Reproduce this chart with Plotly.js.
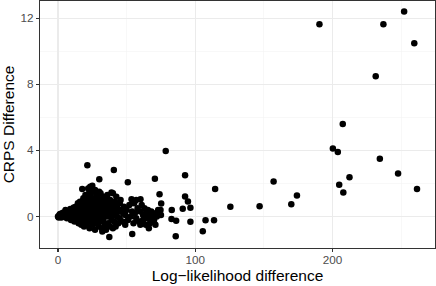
<!DOCTYPE html>
<html>
<head>
<meta charset="utf-8">
<script src="https://cdn.plot.ly/plotly-3.0.1.min.js"></script>
<style>html,body{margin:0;padding:0;background:#fff}#chart{width:436px;height:286px}</style>
</head>
<body>
<div id="chart"></div>
<script>
const logLikDiff = [
  0,0.5,1,1.5,2.5,3,4,5,5.5,6.5,7,8,9,9.5,10,11,11.5,12,12.5,
  13,13.5,14,14.5,15,15,15.5,16,16,16.5,17,17,17.7,17.5,18,18,18.5,18.5,19,19,19.5,20,20,20,20.5,21,21,21.4,21.5,22,22,22,22.5,23,23,23,23.5,24,24,24,24.5,25,25,25,25.5,25.5,
  26,26,26.5,27,27,27,27.5,28,28,28,28.5,29,29,29,29.5,30,30,30.1,30.5,31,31,31,31.5,32,32,32.3,32.5,33,33,33.5,34,34,34.5,35,35,35.5,
  36,36,36.5,37,37.4,37.5,38,38,38.5,39,39,39.5,40,40,40,40.7,41,41,41.5,42,42,42.5,43,43,44,44,45,45,45.6,46,
  47,47.5,48,49,49,50,50.9,51,52,53,53.6,54.1,54,55,55.5,56,57,57,58,59,60,60.1,60,
  61,62,62,63,64,64,65,65.5,66.2,67,67,68,68.5,69,70,70.6,71,71,72,73,74,74.7,75.2,75,
  78.5,82.9,82.7,86.1,85.8,90.9,92.6,92.6,94.7,96.5,96.5,105.5,107.5,113.7,114.5,125.6,146.9,157.1,170,174.1,
  190.5,200.3,203.9,204.9,207.5,207.9,212.4,231.5,234.5,237.1,247.8,252.2,259.6,261.6
];
const crpsDiff = [
  0,-0.05,0.1,0.15,-0.05,0.2,0.25,0.1,0.4,-0.1,0.3,0.15,0.45,-0.2,0.35,0.05,0.55,-0.3,0.2,
  0.6,-0.1,0.3,0.8,-0.4,0.1,0.5,-0.2,0.9,0.2,-0.5,0.4,1.66,0.7,0.0,-0.3,1.1,0.3,-0.6,0.6,0.1,1.3,-0.2,0.8,0.4,-0.4,1.0,3.1,0.2,1.7,-0.1,0.6,1.4,-0.7,0.3,0.9,1.8,0.0,1.2,-0.3,0.5,1.87,-0.5,0.8,0.2,1.5,
  -0.2,1.0,0.4,-0.8,0.7,1.6,0.1,1.3,-0.4,0.5,0.9,-0.1,0.3,1.1,-0.6,0.6,1.5,2.26,0.0,1.41,-0.3,0.8,0.2,1.0,-0.7,-0.9,0.5,1.2,-0.2,0.7,0.1,-0.5,1.0,0.4,-0.8,0.8,
  0.0,1.3,-0.4,0.6,-1.23,0.2,1.0,-0.6,0.4,-0.2,1.45,0.7,1.41,0.1,-0.7,2.82,0.5,-0.3,0.9,0.2,-0.6,1.2,0.0,0.6,-0.4,0.3,0.8,-0.1,1.0,0.4,
  -0.3,0.2,0.6,-0.5,0.1,0.4,2.08,-0.2,0.7,0.0,1.05,-1.05,0.3,-0.4,0.8,0.2,-0.1,1.0,0.5,-0.3,0.3,1.05,-0.5,
  0.7,-0.2,0.1,0.5,-0.5,0.2,-0.1,0.4,-0.7,0.0,-0.4,0.3,-0.3,0.1,-0.2,2.28,0.2,-0.5,0.0,0.4,1.35,0.4,0.79,0.1,
  3.97,0.40,-0.14,-0.26,-1.19,0.47,2.5,1.21,0.91,0.54,-0.32,-0.88,-0.22,-0.22,1.66,0.59,0.63,2.12,0.75,1.27,
  11.63,4.11,3.91,1.92,5.60,1.45,2.38,8.48,3.49,11.63,2.60,12.39,10.48,1.66
];
const xTicks = [0, 100, 200];
const yTicks = [0, 4, 8, 12];

const font = "Liberation Sans, Arial, Helvetica, sans-serif";
const axisCommon = {
  showgrid: true, gridcolor: '#EBEBEB', gridwidth: 1.07,
  zeroline: false,
  showline: true, mirror: true, linecolor: '#333333', linewidth: 1.07,
  ticks: 'outside', ticklen: 3, tickwidth: 1.07, tickcolor: '#333333',
  tickfont: {family: font, size: 11.7, color: '#4D4D4D'},
  automargin: false
};
const layout = {
  width: 436, height: 286,
  margin: {l: 40, r: 1, t: 1, b: 38},
  paper_bgcolor: '#FFFFFF', plot_bgcolor: '#FFFFFF',
  showlegend: false,
  xaxis: Object.assign({}, axisCommon, {
    range: [-13.1, 274.7],
    tickmode: 'array', tickvals: xTicks, ticktext: xTicks.map(String),
    ticklabelstandoff: -2,
    minor: {dtick: 50, tick0: 0, showgrid: true, gridcolor: '#F2F2F2', gridwidth: 0.53, ticks: ''},
    title: {text: 'Log\u2212likelihood difference', font: {family: font, size: 15.5, color: '#000000'}, standoff: 5}
  }),
  yaxis: Object.assign({}, axisCommon, {
    range: [-1.9, 13.03],
    tickmode: 'array', tickvals: yTicks, ticktext: yTicks.map(String),
    minor: {dtick: 2, tick0: 0, showgrid: true, gridcolor: '#F2F2F2', gridwidth: 0.53, ticks: ''},
    title: {text: 'CRPS Difference', font: {family: font, size: 15.5, color: '#000000'}, standoff: 5}
  })
};
const trace = {
  type: 'scatter', mode: 'markers',
  x: logLikDiff, y: crpsDiff,
  marker: {color: '#000000', size: 6.5, line: {width: 0}},
  hoverinfo: 'none'
};
Plotly.newPlot('chart', [trace], layout, {staticPlot: true, displayModeBar: false});
</script>
</body>
</html>
